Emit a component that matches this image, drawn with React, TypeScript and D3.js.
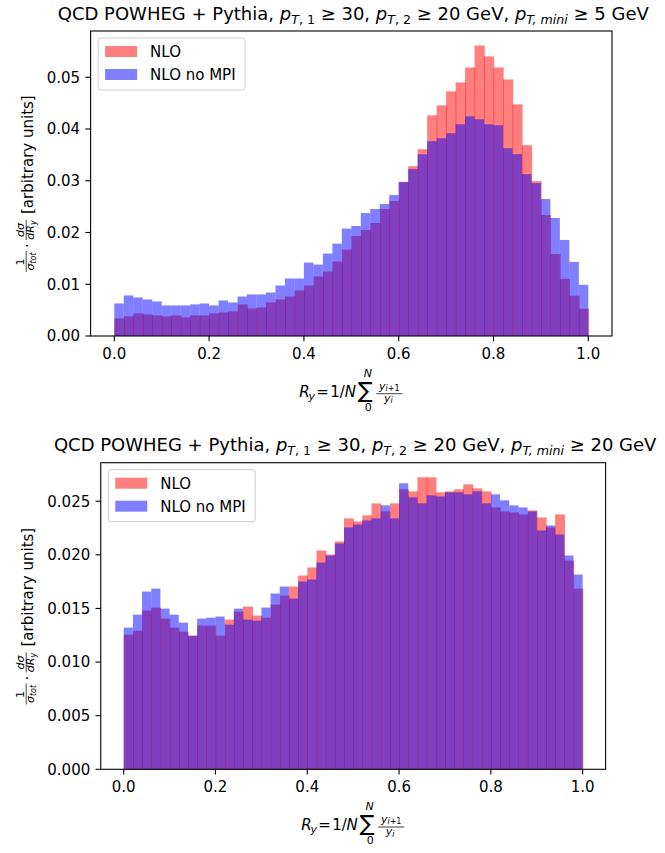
import React from 'react';
import * as d3 from 'd3';

// 50 equal bins on [0, 1]
const binEdges = d3.range(51).map((i) => i / 50);
const xTicks = [0, 0.2, 0.4, 0.6, 0.8, 1.0];
const topYTicks = [0, 0.01, 0.02, 0.03, 0.04, 0.05];
const bottomYTicks = [0, 0.005, 0.01, 0.015, 0.02, 0.025];
const seriesNames = ['NLO', 'NLO no MPI'];
const ptMiniValues = ['5', '20'];

const topNLO = [
  0.0034, 0.00379, 0.00437, 0.00417, 0.00398, 0.00379, 0.00398, 0.0036, 0.00398, 0.00398,
  0.00437, 0.00456, 0.00475, 0.0061, 0.00533, 0.00552, 0.00649, 0.00706, 0.00764, 0.0088,
  0.00976, 0.0115, 0.01246, 0.01439, 0.0167, 0.01933, 0.02049, 0.02184, 0.02453, 0.02608,
  0.0297, 0.03282, 0.0361, 0.04265, 0.04457, 0.04727, 0.049, 0.05189, 0.05613, 0.05401,
  0.05189, 0.04958, 0.04477, 0.03687, 0.02993, 0.02338, 0.01586, 0.01105, 0.00777, 0.00527,
];
const topNoMPI = [
  0.00629, 0.00784, 0.00745, 0.00706, 0.00668, 0.00591, 0.00591, 0.00591, 0.0061, 0.00629,
  0.00591, 0.00687, 0.00649, 0.00764, 0.00803, 0.00803, 0.00841, 0.00976, 0.01111, 0.01111,
  0.01419, 0.01381, 0.01593, 0.01785, 0.02075, 0.02126, 0.02376, 0.02453, 0.0255, 0.02723,
  0.0298, 0.03224, 0.03513, 0.03764, 0.03821, 0.03918, 0.04091, 0.04245, 0.04188, 0.04091,
  0.04072, 0.03629, 0.03513, 0.03128, 0.02954, 0.02646, 0.0228, 0.01856, 0.01432, 0.00989,
];
const bottomNLO = [
  0.01255, 0.01293, 0.0148, 0.01508, 0.01405, 0.01321, 0.01283, 0.01246, 0.0134, 0.0134,
  0.01246, 0.01396, 0.0147, 0.01517, 0.01433, 0.01414, 0.01536, 0.0162, 0.01704, 0.01807,
  0.01882, 0.0204, 0.02003, 0.02125, 0.0234, 0.02311, 0.02368, 0.0248, 0.02405, 0.0248,
  0.02611, 0.02592, 0.02723, 0.02723, 0.02583, 0.02592, 0.02611, 0.02657, 0.0262, 0.02592,
  0.02442, 0.02405, 0.02396, 0.02377, 0.02414, 0.02349, 0.02255, 0.02377, 0.01947, 0.01685,
];
const bottomNoMPI = [
  0.01321, 0.01442, 0.01657, 0.01685, 0.01498, 0.01442, 0.01368, 0.01246, 0.01405, 0.01414,
  0.01424, 0.01349, 0.01498, 0.01396, 0.01386, 0.01508, 0.01639, 0.01704, 0.01592, 0.01751,
  0.0177, 0.01928, 0.01994, 0.02106, 0.02255, 0.02283, 0.02321, 0.0234, 0.02461, 0.0234,
  0.02667, 0.02536, 0.0248, 0.02555, 0.02545, 0.02583, 0.02583, 0.02564, 0.02592, 0.0248,
  0.02564, 0.02508, 0.02461, 0.02442, 0.02405, 0.02227, 0.02274, 0.0219, 0.01994, 0.01816,
];

const FONT = 'DejaVu Sans, Verdana, sans-serif';
const FS = 15;
const RED = '#ff0000';
const BLUE = '#0000ff';

function Title({ cx, y, ptMini }: { cx: number; y: number; ptMini: string }) {
  const s = 18;
  const ss = 12.6;
  const d = 4;
  return (
    <text x={cx} y={y} textAnchor="middle" fontFamily={FONT} fontSize={s} fill="#000">
      <tspan>QCD POWHEG + Pythia, </tspan>
      <tspan fontStyle="italic">p</tspan>
      <tspan fontSize={ss} dy={d} fontStyle="italic">T</tspan>
      <tspan fontSize={ss}>, 1</tspan>
      <tspan dy={-d}> ≥ 30, </tspan>
      <tspan fontStyle="italic">p</tspan>
      <tspan fontSize={ss} dy={d} fontStyle="italic">T</tspan>
      <tspan fontSize={ss}>, 2</tspan>
      <tspan dy={-d}> ≥ 20 GeV, </tspan>
      <tspan fontStyle="italic">p</tspan>
      <tspan fontSize={ss} dy={d} fontStyle="italic">T, mini</tspan>
      <tspan dy={-d}>{` ≥ ${ptMini} GeV`}</tspan>
    </text>
  );
}

function XLabel({ cx, B }: { cx: number; B: number }) {
  const x0 = cx - 52;
  const sm = 11;
  const ts = 8;
  return (
    <g fontFamily={FONT} fill="#000">
      <text x={x0} y={B} fontSize={FS} fontStyle="italic">R</text>
      <text x={x0 + 9.3} y={B + 3} fontSize={sm} fontStyle="italic">y</text>
      <text x={x0 + 17} y={B} fontSize={FS}>=</text>
      <text x={x0 + 31} y={B} fontSize={FS}>1/</text>
      <text x={x0 + 45.4} y={B} fontSize={FS} fontStyle="italic">N</text>
      <text x={x0 + 66} y={B + 0.5} fontSize={22} textAnchor="middle">∑</text>
      <text x={x0 + 68.5} y={B - 20} fontSize={sm} fontStyle="italic" textAnchor="middle">N</text>
      <text x={x0 + 69} y={B + 14} fontSize={sm} textAnchor="middle">0</text>
      <line x1={x0 + 77} x2={x0 + 103} y1={B - 3.3} y2={B - 3.3} stroke="#000" strokeWidth={0.75} />
      <text x={x0 + 90} y={B - 7.5} fontSize={sm} textAnchor="middle">
        <tspan fontStyle="italic">y</tspan>
        <tspan fontSize={ts} dy={1.6} fontStyle="italic">i</tspan>
        <tspan fontSize={ts}>+1</tspan>
      </text>
      <text x={x0 + 89} y={B + 4.6} fontSize={sm} textAnchor="middle">
        <tspan fontStyle="italic">y</tspan>
        <tspan fontSize={ts} dy={1.8} fontStyle="italic">i</tspan>
      </text>
    </g>
  );
}

function YLabel({ x, cy }: { x: number; cy: number }) {
  const sm = 11;
  const ts = 8;
  const L = 179;
  const u0 = -L / 2;
  const barV = -6.8;
  return (
    <g transform={`translate(${x},${cy}) rotate(-90)`} fontFamily={FONT} fill="#000">
      <g transform={`translate(${u0},0)`}>
        <text x={11} y={-9} fontSize={sm} textAnchor="middle">1</text>
        <line x1={1} x2={22} y1={barV} y2={barV} stroke="#000" strokeWidth={0.7} />
        <text x={11.5} y={1} fontSize={sm} textAnchor="middle">
          <tspan fontStyle="italic">σ</tspan>
          <tspan fontSize={ts} dy={1.6} fontStyle="italic">tot</tspan>
        </text>
        <text x={27.5} y={0} fontSize={FS} textAnchor="middle">·</text>
        <text x={43} y={-9} fontSize={sm} textAnchor="middle" fontStyle="italic">dσ</text>
        <line x1={33} x2={53} y1={barV} y2={barV} stroke="#000" strokeWidth={0.7} />
        <text x={43} y={1} fontSize={sm} textAnchor="middle">
          <tspan fontStyle="italic">dR</tspan>
          <tspan fontSize={ts} dy={1.6} fontStyle="italic">y</tspan>
        </text>
        <text x={59} y={0} fontSize={FS}>[arbitrary units]</text>
      </g>
    </g>
  );
}

function Legend({ x, y }: { x: number; y: number }) {
  const w = 147;
  const h = 52;
  const colors = [RED, BLUE];
  return (
    <g>
      <rect x={x} y={y} width={w} height={h} rx={3} fill="#fff" fillOpacity={0.8} stroke="#cccccc" strokeWidth={1} />
      {seriesNames.map((n, i) => {
        const c = y + 13.5 + i * 23;
        return (
          <g key={n}>
            <rect x={x + 7} y={c - 5.5} width={32} height={11} fill={colors[i]} fillOpacity={0.5} />
            <text x={x + 52} y={c + 5.4} fontFamily={FONT} fontSize={FS} fill="#000">{n}</text>
          </g>
        );
      })}
    </g>
  );
}

type PanelProps = {
  left: number; right: number; top: number; bottom: number;
  red: number[]; blue: number[]; yTicks: number[]; yFmt: string; ptMini: string;
};

function Panel({ left, right, top, bottom, red, blue, yTicks, yFmt, ptMini }: PanelProps) {
  const x = d3.scaleLinear().domain([-0.05, 1.05]).range([left, right]);
  const ymax = (d3.max([...red, ...blue]) as number) * 1.05;
  const y = d3.scaleLinear().domain([0, ymax]).range([bottom, top]);
  const fmtY = d3.format(yFmt);
  const fmtX = d3.format('.1f');
  const cx = (left + right) / 2;
  const tl = 5.25;
  return (
    <g>
      <Title cx={cx + 2} y={top - 11.5} ptMini={ptMini} />
      {red.map((v, i) => (
        <rect key={'r' + i} x={x(binEdges[i])} width={x(binEdges[i + 1]) - x(binEdges[i]) + 0.7}
          y={y(v)} height={y(0) - y(v)} fill={RED} fillOpacity={0.5} />
      ))}
      {blue.map((v, i) => (
        <rect key={'b' + i} x={x(binEdges[i])} width={x(binEdges[i + 1]) - x(binEdges[i])}
          y={y(v)} height={y(0) - y(v)} fill={BLUE} fillOpacity={0.5} />
      ))}
      <rect x={left} y={top} width={right - left} height={bottom - top} fill="none" stroke="#000" strokeWidth={1.1} />
      {xTicks.map((t) => (
        <g key={'x' + t}>
          <line x1={x(t)} x2={x(t)} y1={bottom} y2={bottom + tl} stroke="#000" strokeWidth={1.1} />
          <text x={x(t)} y={bottom + 23} textAnchor="middle" fontFamily={FONT} fontSize={FS} fill="#000">{fmtX(t)}</text>
        </g>
      ))}
      {yTicks.map((t) => (
        <g key={'y' + t}>
          <line x1={left - tl} x2={left} y1={y(t)} y2={y(t)} stroke="#000" strokeWidth={1.1} />
          <text x={left - 10.5} y={y(t) + 5.3} textAnchor="end" fontFamily={FONT} fontSize={FS} fill="#000">{fmtY(t)}</text>
        </g>
      ))}
      <Legend x={left + 7.5} y={top + 7} />
      <XLabel cx={cx} B={bottom + 61} />
      <YLabel x={33} cy={(top + bottom) / 2} />
    </g>
  );
}

export default function App() {
  return (
    <svg width={665} height={853} viewBox="0 0 665 853"
      style={{ position: 'absolute', left: 0, top: 0, background: '#fff' }}>
      <rect width={665} height={853} fill="#fff" />
      <Panel left={90.6} right={612} top={31} bottom={336} red={topNLO} blue={topNoMPI}
        yTicks={topYTicks} yFmt=".2f" ptMini={ptMiniValues[0]} />
      <Panel left={100.75} right={605.6} top={462.7} bottom={769.3} red={bottomNLO} blue={bottomNoMPI}
        yTicks={bottomYTicks} yFmt=".3f" ptMini={ptMiniValues[1]} />
    </svg>
  );
}
